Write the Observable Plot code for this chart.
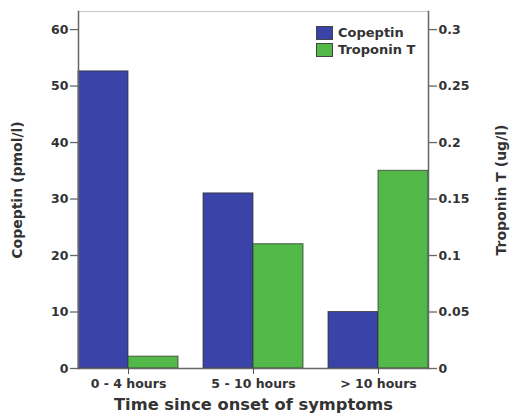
<!DOCTYPE html>
<html><head><meta charset="utf-8">
<script src="https://cdn.jsdelivr.net/npm/d3@7"></script>
<script src="https://cdn.jsdelivr.net/npm/@observablehq/plot@0.6"></script>
<style>
body{margin:0;background:#fff}
#wrap{position:relative;width:516px;height:414px;font-family:"DejaVu Sans",sans-serif}
#wrap svg{display:block}
[aria-label="y-axis label"]{font-size:14px}
[aria-label="fx-axis label"]{font-size:16.3px}
.legend{position:absolute;left:316px;top:24px;font-family:"DejaVu Sans",sans-serif;font-weight:bold;font-size:13px;color:#333;line-height:17px}
.legend div{display:flex;align-items:center;height:17px}
.legend span.sw{display:inline-block;width:17px;height:14px;margin-right:5px;border:1px solid #444;box-sizing:border-box}
</style></head><body>
<div id="wrap"></div>
<script>
const categories = ["0 - 4 hours", "5 - 10 hours", "> 10 hours"];
const seriesNames = ["Copeptin", "Troponin T"];
const copeptin = [52.6, 31.0, 10.0];      // pmol/l
const troponinT = [0.0105, 0.11, 0.175];  // ug/l
const leftTicks = [0, 10, 20, 30, 40, 50, 60];
const rightTicks = [0, 0.05, 0.1, 0.15, 0.2, 0.25, 0.3];
const ratio = 200; // 0.3 ug/l aligns with 60 pmol/l
const colors = ["#3a44a8", "#52b848"];

const data = categories.flatMap((c, i) => [
  {cat: c, series: seriesNames[0], value: copeptin[i]},
  {cat: c, series: seriesNames[1], value: troponinT[i] * ratio}
]);

const chart = Plot.plot({
  width: 516, height: 414,
  marginLeft: 58, marginRight: 68, marginTop: 11, marginBottom: 46,
  style: {fontFamily: "DejaVu Sans, sans-serif", fontWeight: "bold", fontSize: "12.5px", color: "#333", background: "#fff"},
  fx: {domain: categories, paddingInner: 0.2, paddingOuter: 0.154},
  x: {domain: seriesNames, padding: 0, axis: null},
  y: {domain: [0, 63.2]},
  color: {domain: seriesNames, range: colors},
  marks: [
    Plot.barY(data, {fx: "cat", x: "series", y: "value", fill: "series", stroke: "#333", strokeWidth: 1, strokeOpacity: 0.75}),
    Plot.frame({facet: "super", stroke: "#c8c8c8", strokeWidth: 1.2, anchor: "top"}),
    Plot.frame({facet: "super", stroke: "#666", strokeWidth: 1.5, anchor: "left"}),
    Plot.frame({facet: "super", stroke: "#666", strokeWidth: 1.5, anchor: "right"}),
    Plot.frame({facet: "super", stroke: "#666", strokeWidth: 1.5, anchor: "bottom"}),
    Plot.axisY({anchor: "left", ticks: leftTicks, tickSize: 8, tickPadding: 2, stroke: "#666", strokeWidth: 1.3,
      label: "Copeptin (pmol/l)", labelArrow: "none", labelAnchor: "center", labelOffset: 66}),
    Plot.axisY({anchor: "right", ticks: rightTicks.map(t => t * ratio), tickFormat: d => String(+(d / ratio).toFixed(3)),
      tickSize: 8, tickPadding: 2, stroke: "#666", strokeWidth: 1.3,
      label: "Troponin T (ug/l)", labelArrow: "none", labelAnchor: "center", labelOffset: 77}),
    Plot.axisFx({anchor: "bottom", tickSize: 6, tickPadding: 5, stroke: "#555", fontSize: 12.5,
      label: "Time since onset of symptoms", labelArrow: "none", labelAnchor: "center", labelOffset: 41})
  ]
});
const wrap = document.getElementById("wrap");
wrap.appendChild(chart);
const legend = document.createElement("div");
legend.className = "legend";
seriesNames.forEach((s, i) => {
  const row = document.createElement("div");
  const sw = document.createElement("span");
  sw.className = "sw";
  sw.style.background = colors[i];
  row.appendChild(sw);
  row.appendChild(document.createTextNode(s));
  legend.appendChild(row);
});
wrap.appendChild(legend);
</script>
</body></html>
